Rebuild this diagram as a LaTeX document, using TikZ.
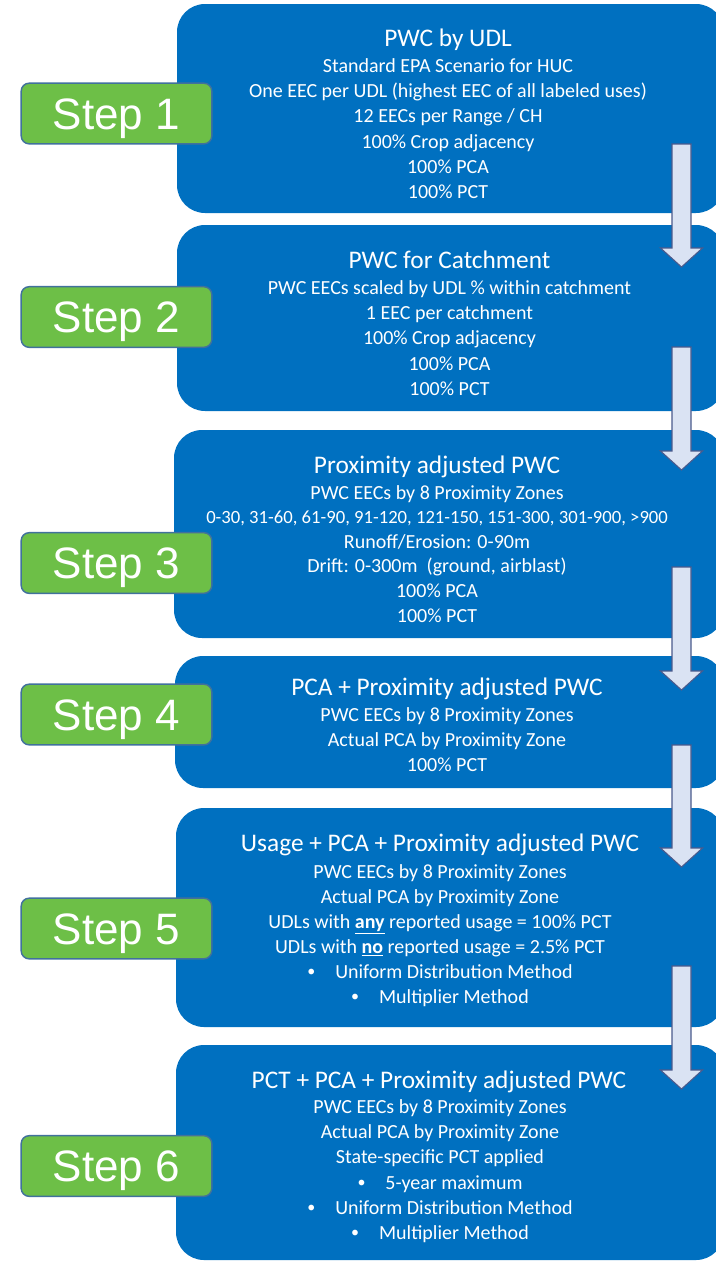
\documentclass[tikz,border=0pt]{standalone}
\usepackage{fontspec}
\setmainfont{Carlito}
\newfontfamily\stepfont{Liberation Sans}
\usetikzlibrary{calc,fit}
\definecolor{boxblue}{HTML}{0070C0}
\definecolor{stepgreen}{HTML}{6DBF47}
\definecolor{stepedge}{HTML}{41719C}
\definecolor{arrowfill}{HTML}{DAE3F3}
\definecolor{arrowedge}{HTML}{4A5A8C}
\tikzset{
	bluebox/.style={fill=boxblue, draw=none, rounded corners=21pt, inner sep=0pt},
	stepbox/.style={fill=stepgreen, draw=stepedge, line width=1.1pt, rounded corners=6pt,
		minimum width=143pt, minimum height=45.5pt, inner sep=0pt, text=white,
		font=\stepfont\fontsize{33}{33}\selectfont, text height=23.5pt, text depth=0pt},
	titletext/.style={text=white, anchor=base, inner sep=0pt, font=\fontsize{19}{22}\selectfont},
	bodytext/.style={text=white, anchor=base, inner sep=0pt, font=\fontsize{15}{18}\selectfont},
	blockarrow/.style={fill=arrowfill, draw=arrowedge, line width=0.8pt, line join=miter}
}
\newcommand\flowarrow[2]{%
	\draw[blockarrow] ($(#1)+(-9.5,0)$) -- ($(#2)+(-9.5,-19)$) -- ($(#2)+(-21,-19)$) -- (#2)
		-- ($(#2)+(21,-19)$) -- ($(#2)+(9.5,-19)$) -- ($(#1)+(9.5,0)$) -- cycle;}
\newcommand\bul{\raisebox{0.08em}{\scalebox{0.8}{\textbullet}}\hspace{1em}}
\begin{document}
\begin{tikzpicture}[x=0.75pt, y=-0.75pt]
	\useasboundingbox (0,0) rectangle (716,1261);
	\clip (0,0) rectangle (716,1261);
	% blaue Kaesten
	\node[bluebox, fit={(177,4) (724,213)}] (box1) {};
	\node[bluebox, fit={(177,225) (724,411)}] (box2) {};
	\node[bluebox, fit={(174,430) (724,638)}] (box3) {};
	\node[bluebox, fit={(175,656) (724,788)}] (box4) {};
	\node[bluebox, fit={(176,808) (724,1027)}] (box5) {};
	\node[bluebox, fit={(176,1045) (724,1260)}] (box6) {};
	% Schritte
	\node[stepbox] (step1) at (116.5,113.5) {Step 1};
	\node[stepbox] (step2) at (116.5,317) {Step 2};
	\node[stepbox] (step3) at (116.5,563) {Step 3};
	\node[stepbox] (step4) at (116.5,714.5) {Step 4};
	\node[stepbox] (step5) at (116.5,928.5) {Step 5};
	\node[stepbox] (step6) at (116.5,1166) {Step 6};
	% Texte
	\node[titletext] (t1) at (448,46) {PWC by UDL};
	\foreach \txt [count=\i] in {Standard EPA Scenario for HUC,
		One EEC per UDL (highest EEC of all labeled uses), 12 EECs per Range / CH,
		100\% Crop adjacency, 100\% PCA, 100\% PCT}
		\node[bodytext] (b1l\i) at (448,{72.5+25.2*(\i-1)}) {\txt};
	\node[titletext] (t2) at (449.5,268) {PWC for Catchment};
	\foreach \txt [count=\i] in {PWC EECs scaled by UDL \% within catchment,
		1 EEC per catchment, 100\% Crop adjacency, 100\% PCA, 100\% PCT}
		\node[bodytext] (b2l\i) at (449.5,{294.5+25.2*(\i-1)}) {\txt};
	\node[titletext] (t3) at (437,473) {Proximity adjusted PWC};
	\foreach \txt [count=\i] in {PWC EECs by 8 Proximity Zones,
		{{\fontsize{14}{17}\selectfont 0-30, 31-60, 61-90, 91-120, 121-150, 151-300, 301-900, >900}},
		Runoff/Erosion: 0-90m, {Drift: 0-300m\ \ (ground, airblast)}, 100\% PCA, 100\% PCT}
		\node[bodytext] (b3l\i) at (437,{499+24.6*(\i-1)}) {\txt};
	\node[titletext] (t4) at (447,695) {PCA + Proximity adjusted PWC};
	\foreach \txt [count=\i] in {PWC EECs by 8 Proximity Zones,
		Actual PCA by Proximity Zone, 100\% PCT}
		\node[bodytext] (b4l\i) at (447,{721.5+25*(\i-1)}) {\txt};
	\node[titletext] (t5) at (440,851) {Usage + PCA + Proximity adjusted PWC};
	\foreach \txt [count=\i] in {PWC EECs by 8 Proximity Zones,
		Actual PCA by Proximity Zone,
		UDLs with \textbf{\underline{any}} reported usage = 100\% PCT,
		UDLs with \textbf{\underline{no}} reported usage = 2.5\% PCT,
		\bul Uniform Distribution Method, \bul Multiplier Method}
		\node[bodytext] (b5l\i) at (440,{878+25.1*(\i-1)}) {\txt};
	\node[titletext] (t6) at (439,1088) {PCT + PCA + Proximity adjusted PWC};
	\foreach \txt [count=\i] in {PWC EECs by 8 Proximity Zones,
		Actual PCA by Proximity Zone, State-specific PCT applied,
		\bul 5-year maximum, \bul Uniform Distribution Method, \bul Multiplier Method}
		\node[bodytext] (b6l\i) at (440,{1113.5+25.2*(\i-1)}) {\txt};
	% Pfeile
	\coordinate (a1top) at (681.5,144);
	\coordinate (a1tip) at (681.5,267);
	\coordinate (a2top) at (681.5,347);
	\coordinate (a2tip) at (681.5,470);
	\coordinate (a3top) at (681.5,567);
	\coordinate (a3tip) at (681.5,690);
	\coordinate (a4top) at (681.5,745);
	\coordinate (a4tip) at (681.5,867);
	\coordinate (a5top) at (681.5,966);
	\coordinate (a5tip) at (681.5,1089);
	\flowarrow{a1top}{a1tip}
	\flowarrow{a2top}{a2tip}
	\flowarrow{a3top}{a3tip}
	\flowarrow{a4top}{a4tip}
	\flowarrow{a5top}{a5tip}
\end{tikzpicture}
\end{document}
